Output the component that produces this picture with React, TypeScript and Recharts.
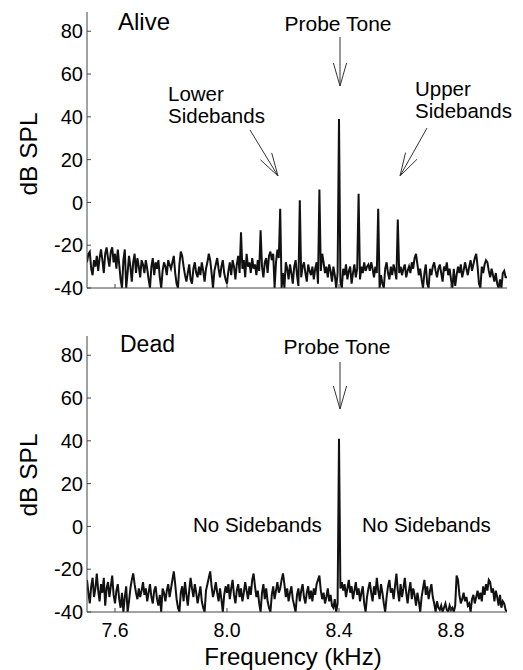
import { Line, LineChart, XAxis, YAxis } from "recharts";

// Sampling grid of the spectra (kHz)
const F_START = 7.5;
const F_STEP = 0.005;

const X_TICKS = [7.6, 8.0, 8.4, 8.8];
const Y_TICKS = [-40, -20, 0, 20, 40, 60, 80];

// dB SPL, one row per 0.1 kHz (20 samples), last value at 9.0 kHz
const ALIVE_DB = [
  -28, -24, -23, -31, -34, -27, -30, -25, -32, -26, -22, -27, -33, -24, -21, -26, -30, -23, -21, -28,
  -24, -31, -22, -29, -36, -40, -27, -22, -40, -33, -25, -30, -37, -28, -24, -33, -26, -30, -35, -27,
  -29, -33, -27, -31, -36, -40, -30, -26, -34, -28, -31, -27, -35, -40, -32, -28, -30, -34, -27, -29,
  -31, -28, -25, -33, -38, -40, -29, -23, -25, -30, -34, -37, -33, -29, -36, -38, -31, -28, -33, -35,
  -30, -34, -28, -32, -37, -31, -28, -24, -27, -33, -40, -32, -29, -26, -31, -35, -30, -27, -33, -36,
  -38, -32, -28, -34, -27, -30, -36, -29, -25, -33, -14, -31, -27, -35, -24, -30, -28, -33, -26, -31,
  -29, -34, -27, -32, -13, -30, -35, -28, -26, -33, -25, -23, -27, -24, -40, -28, -22, -26, -3, -40,
  -33, -40, -28, -31, -36, -29, -33, -38, -30, -27, -34, -39, 1, -35, -30, -28, -33, -37, -29, -32,
  -34, -30, -36, -31, -28, -38, 6, -32, -24, -28, -33, -30, -35, -29, -32, -37, -30, -34, -40, -33,
  39, -37, -40, -31, -34, -29, -36, -32, -30, -38, -33, -29, -35, -31, 4, -36, -30, -33, -28, -32,
  -30, -29, -32, -28, -31, -35, -30, -33, -3, -40, -34, -38, -40, -31, -28, -33, -36, -30, -34, -29,
  -32, -36, -8, -33, -30, -34, -31, -29, -35, -32, -30, -33, -28, -31, -26, -24, -29, -34, -31, -36,
  -40, -33, -29, -38, -40, -31, -34, -30, -28, -32, -35, -31, -29, -33, -37, -30, -32, -28, -34, -31,
  -36, -40, -31, -39, -34, -30, -33, -29, -35, -32, -28, -31, -34, -30, -27, -32, -29, -26, -24, -30,
  -38, -40, -30, -33, -29, -27, -28, -32, -35, -31, -34, -37, -33, -38, -40, -36, -40, -33, -32, -35,
  -35,
];

const DEAD_DB = [
  -25, -31, -36, -28, -24, -33, -29, -22, -30, -35, -27, -31, -24, -37, -29, -26, -33, -28, -23, -32,
  -36, -30, -27, -34, -38, -31, -40, -33, -28, -40, -35, -29, -25, -22, -27, -31, -34, -29, -33, -30,
  -26, -32, -29, -35, -31, -27, -33, -36, -30, -28, -34, -37, -32, -40, -29, -31, -35, -30, -27, -33,
  -29, -25, -21, -27, -34, -38, -40, -31, -28, -35, -26, -32, -37, -30, -24, -29, -33, -27, -31, -36,
  -32, -28, -35, -38, -40, -30, -27, -24, -21, -28, -33, -30, -26, -31, -35, -29, -34, -40, -32, -28,
  -31, -27, -34, -29, -25, -32, -36, -30, -27, -33, -29, -35, -31, -26, -30, -34, -28, -32, -25, -22,
  -28, -33, -30, -36, -40, -31, -27, -34, -29, -35, -38, -40, -32, -28, -34, -30, -26, -31, -29, -25,
  -22, -27, -33, -29, -35, -31, -28, -34, -37, -40, -32, -29, -35, -30, -27, -33, -36, -31, -28, -34,
  -30, -35, -29, -32, -27, -25, -23, -30, -34, -31, -36, -33, -29, -35, -32, -37, -38, -34, -40, -36,
  41, -29, -26, -30, -27, -33, -29, -25, -31, -28, -34, -30, -26, -32, -29, -35, -31, -28, -36, -40,
  -33, -29, -26, -31, -35, -28, -32, -24, -30, -34, -27, -31, -36, -40, -33, -28, -25, -31, -29, -34,
  -28, -22, -30, -35, -27, -33, -29, -24, -31, -36, -30, -26, -34, -29, -32, -37, -31, -35, -40, -33,
  -29, -25, -32, -28, -34, -30, -27, -33, -36, -40, -35, -38, -39, -37, -40, -38, -36, -39, -40, -37,
  -39, -38, -40, -37, -23, -25, -32, -36, -34, -31, -35, -33, -37, -36, -40, -34, -32, -36, -33, -30,
  -34, -31, -35, -28, -32, -27, -30, -25, -26, -31, -29, -35, -30, -33, -37, -32, -38, -35, -36, -39,
  -40,
];

const toRows = (db: number[]) =>
  db.map((v, i) => ({ f: +(F_START + i * F_STEP).toFixed(3), db: v }));

const FONT = '"Liberation Sans", Arial, sans-serif';
const AXIS = "#444";

function Panel({
  data,
  showX,
  marginTop,
  height,
  xHeight,
}: {
  data: { f: number; db: number }[];
  showX: boolean;
  marginTop: number;
  height: number;
  xHeight: number;
}) {
  return (
    <LineChart
      data={data}
      height={height}
      margin={{ top: marginTop, right: 16, bottom: 0, left: 0 }}
      width={523}
    >
      <XAxis
        allowDataOverflow
        axisLine={{ stroke: AXIS }}
        dataKey="f"
        domain={[7.5, 9.0]}
        height={xHeight}
        tick={{ fill: "#000", fontSize: 19.5, fontFamily: FONT }}
        tickFormatter={(v: number) => (showX ? v.toFixed(1) : "")}
        tickLine={{ stroke: AXIS }}
        tickMargin={15}
        tickSize={-4}
        ticks={X_TICKS}
        type="number"
      />
      <YAxis
        allowDataOverflow
        axisLine={{ stroke: AXIS }}
        domain={[-40, 89]}
        tick={{ fill: "#000", fontSize: 20, fontFamily: FONT }}
        tickLine={{ stroke: AXIS }}
        tickMargin={8}
        tickSize={-4}
        ticks={Y_TICKS}
        type="number"
        width={87}
      />
      <Line
        dataKey="db"
        dot={false}
        isAnimationActive={false}
        stroke="#111"
        strokeWidth={2}
        type="linear"
      />
    </LineChart>
  );
}

function Arrow({ x1, y1, x2, y2 }: { x1: number; y1: number; x2: number; y2: number }) {
  // open V head at (x2, y2)
  const a = Math.atan2(y2 - y1, x2 - x1);
  const len = 24;
  const spread = 0.28;
  const h1 = [x2 - len * Math.cos(a - spread), y2 - len * Math.sin(a - spread)];
  const h2 = [x2 - len * Math.cos(a + spread), y2 - len * Math.sin(a + spread)];
  return (
    <g fill="none" stroke="#333" strokeWidth={1}>
      <line x1={x1} x2={x2} y1={y1} y2={y2} />
      <polyline points={`${h1[0]},${h1[1]} ${x2},${y2} ${h2[0]},${h2[1]}`} />
    </g>
  );
}

export default function App() {
  const t = { fontFamily: FONT, fill: "#000" } as const;
  return (
    <div
      style={{
        position: "absolute",
        left: 0,
        top: 0,
        width: 523,
        height: 670,
        background: "#fff",
        fontFamily: FONT,
      }}
    >
      <div style={{ position: "absolute", left: 0, top: 0 }}>
        <Panel data={toRows(ALIVE_DB)} height={300} marginTop={12} showX={false} xHeight={12} />
      </div>
      <div style={{ position: "absolute", left: 0, top: 320 }}>
        <Panel data={toRows(DEAD_DB)} height={350} marginTop={16} showX xHeight={58} />
      </div>

      <svg
        height={670}
        style={{ position: "absolute", left: 0, top: 0, pointerEvents: "none" }}
        width={523}
      >
        {/* Alive panel */}
        <text {...t} fontSize={24} x={118} y={30}>Alive</text>
        <text {...t} fontSize={21} textAnchor="middle" x={338} y={31}>Probe Tone</text>
        <Arrow x1={340} x2={340} y1={37} y2={86} />
        <text {...t} fontSize={20.5} x={168} y={101}>Lower</text>
        <text {...t} fontSize={20.5} x={168} y={123}>Sidebands</text>
        <Arrow x1={250} x2={278} y1={130} y2={176} />
        <text {...t} fontSize={20.5} x={415} y={96}>Upper</text>
        <text {...t} fontSize={20.5} x={415} y={118}>Sidebands</text>
        <Arrow x1={427} x2={400} y1={128} y2={176} />
        <text {...t} fontSize={24.5} textAnchor="middle" transform="rotate(-90 37 154)" x={37} y={154}>
          dB SPL
        </text>

        {/* Dead panel */}
        <text {...t} fontSize={23} x={120} y={352}>Dead</text>
        <text {...t} fontSize={21} textAnchor="middle" x={337} y={354}>Probe Tone</text>
        <Arrow x1={340} x2={340} y1={362} y2={409} />
        <text {...t} fontSize={20.5} x={193} y={532}>No Sidebands</text>
        <text {...t} fontSize={20.5} x={362} y={532}>No Sidebands</text>
        <text {...t} fontSize={24.5} textAnchor="middle" transform="rotate(-90 37 475)" x={37} y={475}>
          dB SPL
        </text>
        <text {...t} fontSize={24} textAnchor="middle" x={293} y={665}>
          Frequency (kHz)
        </text>
      </svg>
    </div>
  );
}
